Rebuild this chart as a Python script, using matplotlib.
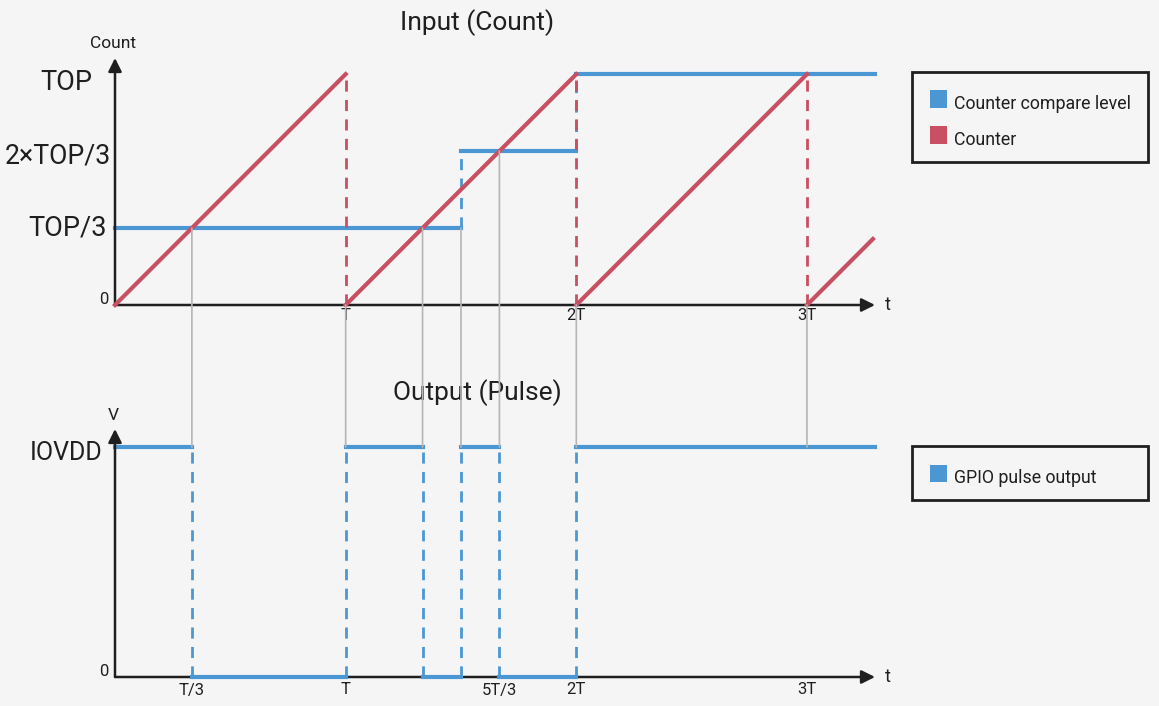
import matplotlib
matplotlib.use("Agg")
import matplotlib.pyplot as plt
from matplotlib.patches import ConnectionPatch, Rectangle

plt.rcParams["font.family"] = ["Roboto", "DejaVu Sans"]

BLUE = "#4b97d4"
RED = "#c94f63"
GREY = "#b5b5b5"
INK = "#1f1f1f"
BG = "#f5f5f5"

# time in units of T, counter in units of TOP, output in units of IOVDD
counter_t = [0, 1, 1, 2, 2, 3, 3, 3.286]
counter_v = [0, 1, 0, 1, 0, 1, 0, 0.286]
drop_t = [1, 2, 3]

compare_t = [0, 1.5, 1.5, 2, 2, 3.295]
compare_v = [1 / 3, 1 / 3, 2 / 3, 2 / 3, 1, 1]

pulse_edges = [1 / 3, 1, 4 / 3, 1.5, 5 / 3, 2]
pulse_high = [(0, 1 / 3), (1, 4 / 3), (1.5, 5 / 3), (2, 3.295)]
pulse_low = [(1 / 3, 1), (4 / 3, 1.5), (5 / 3, 2)]

# gray guide lines: (time, level in the top chart)
guides = [(1 / 3, 1 / 3), (1, 0), (4 / 3, 1 / 3), (1.5, 1 / 3), (5 / 3, 2 / 3), (2, 0), (3, 0)]

top_yticks = [1 / 3, 2 / 3, 1]
top_ylabels = ["TOP/3", "2×TOP/3", "TOP"]
top_xticks = [1, 2, 3]
top_xlabels = ["T", "2T", "3T"]
bot_xticks = [1 / 3, 1, 5 / 3, 2, 3]
bot_xlabels = ["T/3", "T", "5T/3", "2T", "3T"]

# label nudges in pixels (layout only)
ylab_dx = [-8, -4, -23]
ylab_dy = [0, -5, -8]
ylab_size = [19.5, 19.2, 19.5]

W, H = 1159, 706
fig = plt.figure(figsize=(W / 100, H / 100), dpi=100, facecolor=BG)


def px_axes(x0, x1, y_top, y_bot):
    a = fig.add_axes([x0 / W, 1 - y_bot / H, (x1 - x0) / W, (y_bot - y_top) / H])
    a.set_axis_off()
    return a


XMAX = 3.295
ax1 = px_axes(115, 875, 58, 305)
ax1.set_xlim(0, XMAX)
ax1.set_ylim(0, 1.07)
ax2 = px_axes(115, 875, 429, 677)
ax2.set_xlim(0, XMAX)
ax2.set_ylim(0, 1.0783)


def note(ax, s, xy, dx, dy, size, ha="center", va="center"):
    ax.annotate(s, xy, xytext=(dx, dy), textcoords="offset pixels", fontsize=size,
                color=INK, ha=ha, va=va, annotation_clip=False)


def draw_axes(ax, ytop, ylabel, ylabel_dy):
    ax.annotate("", xy=(XMAX, 0), xytext=(0, 0),
                arrowprops=dict(arrowstyle="-|>", color=INK, lw=1.8, mutation_scale=20,
                                shrinkA=0, shrinkB=0), annotation_clip=False)
    ax.annotate("", xy=(0, ytop), xytext=(0, 0),
                arrowprops=dict(arrowstyle="-|>", color=INK, lw=1.8, mutation_scale=20,
                                shrinkA=0, shrinkB=0), annotation_clip=False)
    note(ax, "t", (XMAX, 0), 13, 0, 13)
    note(ax, ylabel, (0, ytop), -2, ylabel_dy, 12.5)
    note(ax, "0", (0, 0), -7, 5, 12, ha="right")


# ---- top chart: counter vs compare level
ax1.plot(compare_t[:2], compare_v[:2], color=BLUE, lw=3, clip_on=False, zorder=3)
ax1.plot(compare_t[2:4], compare_v[2:4], color=BLUE, lw=3, clip_on=False, zorder=3)
ax1.plot(compare_t[4:], compare_v[4:], color=BLUE, lw=3, clip_on=False, zorder=3)
ax1.plot([1.5, 1.5], [1 / 3, 2 / 3], color=BLUE, lw=2, ls=(0, (4, 3)), clip_on=False, zorder=3)
ax1.plot([2, 2], [2 / 3, 1], color=BLUE, lw=2, ls=(0, (4, 3)), clip_on=False, zorder=3)

for i in range(0, len(counter_t), 2):
    ax1.plot(counter_t[i:i + 2], counter_v[i:i + 2], color=RED, lw=3, clip_on=False, zorder=4)
for t in drop_t:
    ax1.plot([t, t], [0, 1], color=RED, lw=2, ls=(0, (4, 3)), clip_on=False, zorder=4)

draw_axes(ax1, 1.07, "Count", 15)
for v, lab, dx, dy, sz in zip(top_yticks, top_ylabels, ylab_dx, ylab_dy, ylab_size):
    note(ax1, lab, (0, v), dx, dy, sz, ha="right")
for t, lab in zip(top_xticks, top_xlabels):
    note(ax1, lab, (t, 0), 0, -10, 12)
ax1.text(1.57, 1.225, "Input (Count)", fontsize=19, color=INK, ha="center", va="center")

# ---- bottom chart: output pulse
for a, b in pulse_high:
    ax2.plot([a, b], [1, 1], color=BLUE, lw=3, clip_on=False, zorder=3)
for a, b in pulse_low:
    ax2.plot([a, b], [0, 0], color=BLUE, lw=3, clip_on=False, zorder=5)
for t in pulse_edges:
    ax2.plot([t, t], [0, 1], color=BLUE, lw=2, ls=(0, (4, 3)), clip_on=False, zorder=3)

draw_axes(ax2, 1.0783, "V", 13)
note(ax2, "IOVDD", (0, 1), -13, -6, 18, ha="right")
for t, lab in zip(bot_xticks, bot_xlabels):
    note(ax2, lab, (t, 0), 0, -13, 12)
ax2.text(1.57, 1.235, "Output (Pulse)", fontsize=19, color=INK, ha="center", va="center")

# ---- gray guides linking the two charts
for t, lvl in guides:
    fig.add_artist(ConnectionPatch(xyA=(t, lvl), coordsA=ax1.transData,
                                   xyB=(t, 1), coordsB=ax2.transData,
                                   color=GREY, lw=1.2, zorder=1))


# ---- legends (boxes drawn in figure pixels)
def legend_box(x0, y0, x1, y1, items):
    fig.add_artist(Rectangle((x0 / W, 1 - y1 / H), (x1 - x0) / W, (y1 - y0) / H,
                             transform=fig.transFigure, fill=False, ec=INK, lw=2))
    for k, (label, color) in enumerate(items):
        yc = y0 + 27 + 36 * k
        fig.add_artist(Rectangle((930 / W, 1 - (yc + 8.5) / H), 17 / W, 17 / H,
                                 transform=fig.transFigure, fc=color, ec="none"))
        fig.text(954 / W, 1 - (yc + 5) / H, label, fontsize=12.8, color=INK, ha="left", va="center")


legend_box(912, 72, 1148, 162, [("Counter compare level", BLUE), ("Counter", RED)])
legend_box(912, 446, 1148, 500, [("GPIO pulse output", BLUE)])

fig.savefig("out.png", dpi=100, facecolor=BG)
